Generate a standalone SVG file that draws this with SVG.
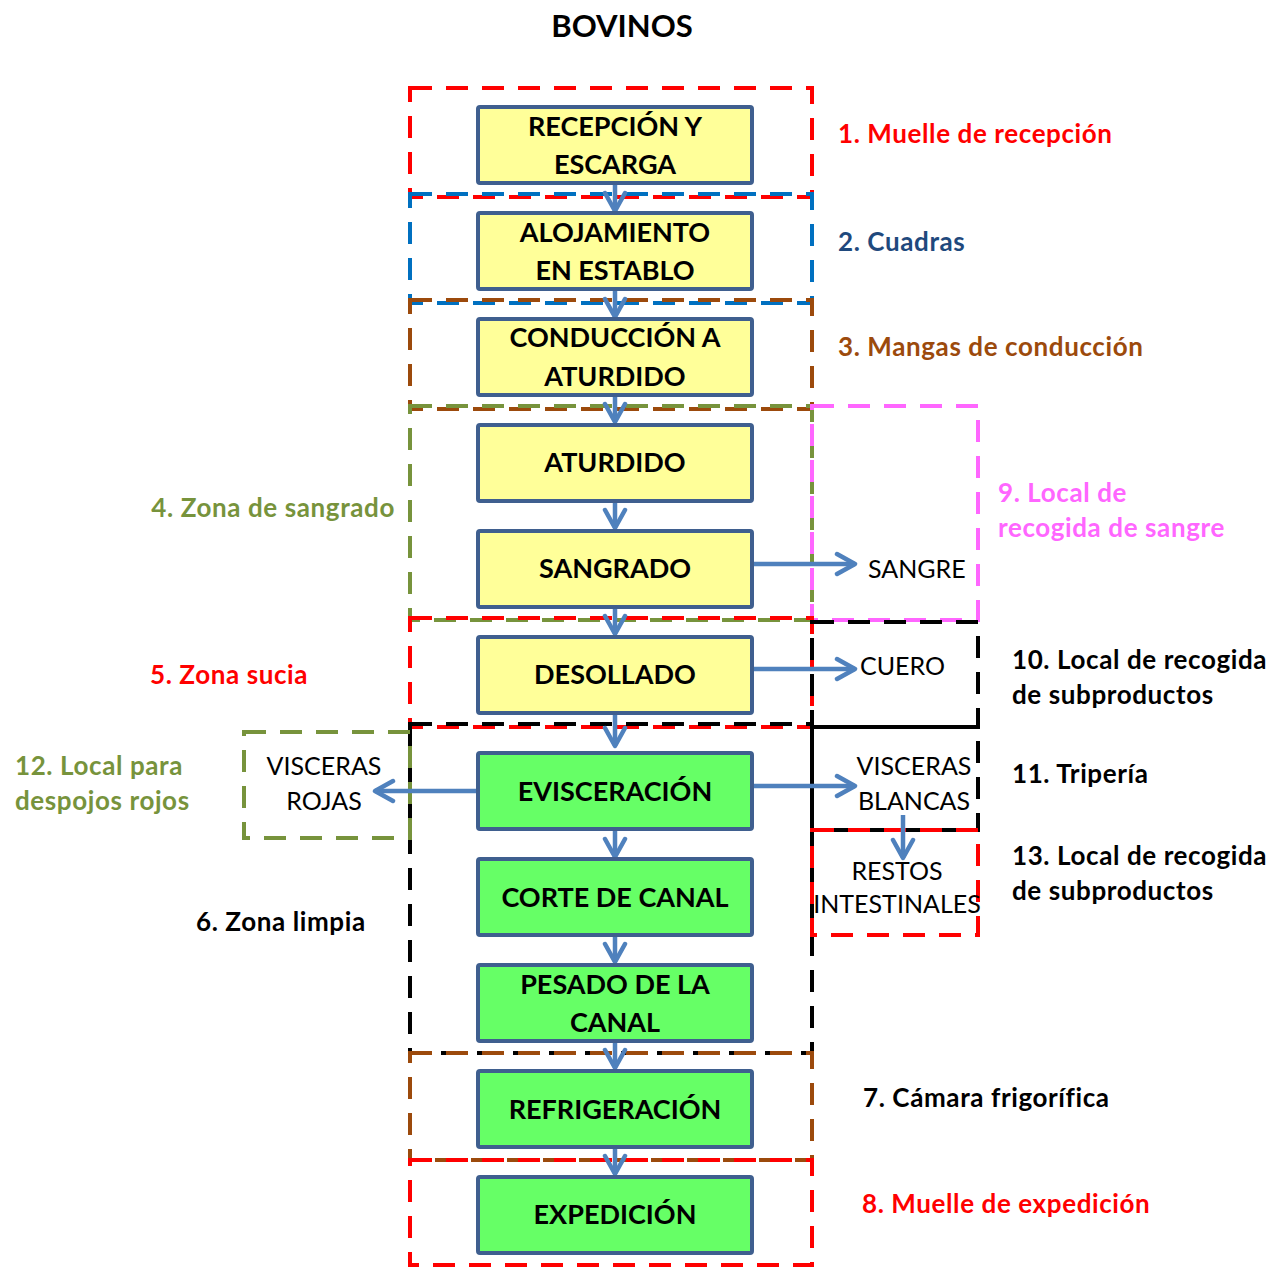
<svg xmlns="http://www.w3.org/2000/svg" width="1274" height="1267" viewBox="0 0 1274 1267">
<style>
.z{fill:none;stroke-width:4;stroke-dasharray:22 14}
.box rect{stroke:#3F5F8F;stroke-width:4}
.y{fill:#FFFF99}.g{fill:#66FF66}
.bt{font-family:Lato,"Liberation Sans",sans-serif;font-weight:bold;font-size:27px;fill:#000;text-anchor:middle}
.lb{font-family:Lato,"Liberation Sans",sans-serif;font-weight:bold;font-size:26px;letter-spacing:0.6px}
.pt{font-family:Lato,"Liberation Sans",sans-serif;font-size:25px;fill:#000}
.c line{stroke:#4F81BD;stroke-width:4.5;marker-end:url(#ah)}
</style>
<defs>
<marker id="ah" viewBox="0 0 24 26" refX="21" refY="13" markerWidth="24" markerHeight="26" markerUnits="userSpaceOnUse" orient="auto">
<path d="M3,3 L21,13 L3,23" fill="none" stroke="#4F81BD" stroke-width="4.5" stroke-linecap="round" stroke-linejoin="round"/>
</marker>
</defs>
<rect width="1274" height="1267" fill="#fff"/>
<text x="622" y="37" text-anchor="middle" font-family="Lato,'Liberation Sans',sans-serif" font-weight="bold" font-size="31">BOVINOS</text>

<g id="zones">
<rect class="z" x="410" y="88" width="402" height="109" stroke="#FF0000"/>
<rect class="z" x="410" y="194" width="402" height="109" stroke="#0070C0"/>
<rect class="z" x="410" y="300" width="402" height="109" stroke="#9C4A0C"/>
<rect class="z" x="410" y="406" width="402" height="214" stroke="#77933C"/>
<rect class="z" x="812" y="406" width="166" height="214" stroke="#FF66FF"/>
<rect class="z" x="410" y="618" width="402" height="109" stroke="#FF0000"/>
<rect class="z" x="812" y="622" width="166" height="105" stroke="#000"/>
<rect class="z" x="410" y="724" width="402" height="329" stroke="#000"/>
<rect class="z" x="812" y="727" width="166" height="103" stroke="#000"/>
<rect class="z" x="812" y="830" width="166" height="105" stroke="#FF0000"/>
<rect class="z" x="244" y="732" width="166" height="106" stroke="#77933C"/>
<rect class="z" x="410" y="1053" width="402" height="107" stroke="#9C4A0C"/>
<rect class="z" x="410" y="1160" width="402" height="105" stroke="#FF0000"/>
</g>

<g class="c" id="connectors">
<line x1="615" y1="184" x2="615" y2="211"/>
<line x1="615" y1="290" x2="615" y2="317"/>
<line x1="615" y1="396" x2="615" y2="422"/>
<line x1="615" y1="502" x2="615" y2="528"/>
<line x1="615" y1="608" x2="615" y2="634"/>
<line x1="615" y1="714" x2="615" y2="746"/>
<line x1="615" y1="830" x2="615" y2="857"/>
<line x1="615" y1="936" x2="615" y2="962"/>
<line x1="615" y1="1042" x2="615" y2="1068"/>
<line x1="615" y1="1148" x2="615" y2="1174"/>
<line x1="753" y1="564" x2="855" y2="564"/>
<line x1="753" y1="669" x2="855" y2="669"/>
<line x1="753" y1="786" x2="855" y2="786"/>
<line x1="477" y1="791" x2="375" y2="791"/>
<line x1="903" y1="815" x2="903" y2="858"/>
</g>

<g id="n1" class="box"><rect class="y" x="478" y="107" width="274" height="76" rx="2"/><text class="bt" x="615" y="136">RECEPCIÓN Y</text><text class="bt" x="615" y="174">ESCARGA</text></g>
<g id="n2" class="box"><rect class="y" x="478" y="213" width="274" height="76" rx="2"/><text class="bt" x="615" y="242">ALOJAMIENTO</text><text class="bt" x="615" y="280">EN ESTABLO</text></g>
<g id="n3" class="box"><rect class="y" x="478" y="319" width="274" height="76" rx="2"/><text class="bt" x="615" y="347">CONDUCCIÓN A</text><text class="bt" x="615" y="386">ATURDIDO</text></g>
<g id="n4" class="box"><rect class="y" x="478" y="425" width="274" height="76" rx="2"/><text class="bt" x="615" y="472">ATURDIDO</text></g>
<g id="n5" class="box"><rect class="y" x="478" y="531" width="274" height="76" rx="2"/><text class="bt" x="615" y="578">SANGRADO</text></g>
<g id="n6" class="box"><rect class="y" x="478" y="637" width="274" height="76" rx="2"/><text class="bt" x="615" y="684">DESOLLADO</text></g>
<g id="n7" class="box"><rect class="g" x="478" y="753" width="274" height="76" rx="2"/><text class="bt" x="615" y="801">EVISCERACIÓN</text></g>
<g id="n8" class="box"><rect class="g" x="478" y="859" width="274" height="76" rx="2"/><text class="bt" x="615" y="907">CORTE DE CANAL</text></g>
<g id="n9" class="box"><rect class="g" x="478" y="965" width="274" height="76" rx="2"/><text class="bt" x="615" y="994">PESADO DE LA</text><text class="bt" x="615" y="1032">CANAL</text></g>
<g id="n10" class="box"><rect class="g" x="478" y="1071" width="274" height="76" rx="2"/><text class="bt" x="615" y="1119">REFRIGERACIÓN</text></g>
<g id="n11" class="box"><rect class="g" x="478" y="1177" width="274" height="76" rx="2"/><text class="bt" x="615" y="1224">EXPEDICIÓN</text></g>

<g id="outputs">
<text class="pt" x="868" y="578">SANGRE</text>
<text class="pt" x="860" y="675">CUERO</text>
<text class="pt" x="324" y="775" text-anchor="middle">VISCERAS</text>
<text class="pt" x="324" y="810" text-anchor="middle">ROJAS</text>
<text class="pt" x="914" y="775" text-anchor="middle">VISCERAS</text>
<text class="pt" x="914" y="810" text-anchor="middle">BLANCAS</text>
<text class="pt" x="897" y="880" text-anchor="middle">RESTOS</text>
<text class="pt" x="897" y="913" text-anchor="middle">INTESTINALES</text>
</g>

<g id="labels">
<text class="lb" x="838" y="143" fill="#FF0000">1. Muelle de recepción</text>
<text class="lb" x="838" y="251" fill="#1F497D">2. Cuadras</text>
<text class="lb" x="838" y="356" fill="#9C4A0C">3. Mangas de conducción</text>
<text class="lb" x="395" y="517" fill="#77933C" text-anchor="end">4. Zona de sangrado</text>
<text class="lb" x="150" y="684" fill="#FF0000">5. Zona sucia</text>
<text class="lb" x="196" y="931" fill="#000">6. Zona limpia</text>
<text class="lb" x="863" y="1107" fill="#000">7. Cámara frigorífica</text>
<text class="lb" x="862" y="1213" fill="#FF0000">8. Muelle de expedición</text>
<text class="lb" x="998" y="502" fill="#FF66FF">9. Local de</text>
<text class="lb" x="998" y="537" fill="#FF66FF">recogida de sangre</text>
<text class="lb" x="1012" y="669" fill="#000">10. Local de recogida</text>
<text class="lb" x="1012" y="704" fill="#000">de subproductos</text>
<text class="lb" x="1012" y="783" fill="#000">11. Tripería</text>
<text class="lb" x="15" y="775" fill="#77933C">12. Local para</text>
<text class="lb" x="15" y="810" fill="#77933C">despojos rojos</text>
<text class="lb" x="1012" y="865" fill="#000">13. Local de recogida</text>
<text class="lb" x="1012" y="900" fill="#000">de subproductos</text>
</g>
</svg>
